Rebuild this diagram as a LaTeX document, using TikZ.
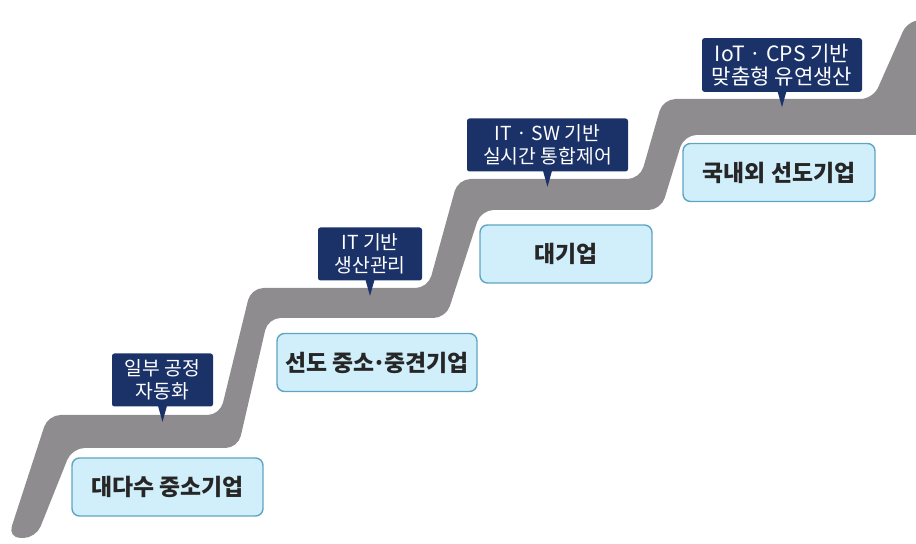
\documentclass[tikz,border=0pt]{standalone}
\usepackage{fontspec}
\setmainfont{Noto Sans CJK KR}
\usetikzlibrary{positioning, calc}
\definecolor{stepnavy}{RGB}{27, 50, 105}
\definecolor{firmblue}{RGB}{208, 239, 250}
\definecolor{firmline}{RGB}{95, 165, 195}
\definecolor{bandgray}{RGB}{143, 140, 143}

\begin{document}
\begin{tikzpicture}[
        firm/.style={rectangle, draw=firmline, line width=0.8pt, fill=firmblue, rounded corners=0.15cm, minimum height=1.16cm, align=center, text=black!85, font=\fontsize{13}{15}\selectfont\bfseries},
        tech/.style={rectangle, fill=stepnavy, rounded corners=0.05cm, minimum height=1.06cm, align=center, text=white, font=\fontsize{11}{13}\selectfont},
        band/.style={fill=bandgray, rounded corners=0.25cm}
    ]
        \useasboundingbox (0,0) rectangle (18.32,10.88);

        % Staircase band
        \fill[band] (0.16,0.12) -- (0.96,2.58) -- (4.40,2.58) -- (5.02,5.12) -- (8.56,5.12)
            -- (9.16,7.30) -- (12.80,7.30) -- (13.26,8.90) -- (17.46,8.90) -- (18.16,10.48)
            -- (18.70,10.48) -- (18.70,8.18) -- (13.68,8.18) -- (13.22,6.68) -- (9.62,6.68)
            -- (8.92,4.52) -- (5.36,4.52) -- (4.76,1.92) -- (1.44,1.92) -- (0.72,0.12) -- cycle;

        % Firms (below each step)
        \node[firm, minimum width=3.82cm] (firm1) at (3.35,1.14) {대다수 중소기업};
        \node[firm, minimum width=4.00cm] (firm2) at (7.54,3.63) {선도 중소\kern-0.1em·\kern-0.1em중견기업};
        \node[firm, minimum width=3.44cm] (firm3) at (11.32,5.80) {대기업};
        \node[firm, minimum width=3.84cm] (firm4) at (15.58,7.43) {국내외 선도기업};

        % Technology level (above each step)
        \node[tech, minimum width=2.02cm] (tech1) at (3.25,3.28) {일부 공정\\자동화};
        \node[tech, minimum width=2.08cm] (tech2) at (7.40,5.80) {IT 기반\\생산관리};
        \node[tech, minimum width=3.22cm] (tech3) at (10.95,7.98) {IT · SW 기반\\실시간 통합제어};
        \node[tech, minimum width=3.20cm, font=\fontsize{12}{13}\selectfont] (tech4) at (15.64,9.58) {IoT · CPS 기반\\맞춤형 유연생산};

        % Pointers
        \foreach \n in {tech1, tech2, tech3, tech4}
            \fill[stepnavy] ([xshift=-0.09cm, yshift=0.02cm]\n.south) -- ([xshift=0.09cm, yshift=0.02cm]\n.south) -- ([yshift=-0.3cm]\n.south) -- cycle;
    \end{tikzpicture}
\end{document}
